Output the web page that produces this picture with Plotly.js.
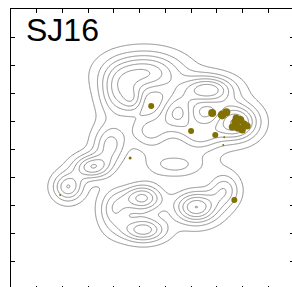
<!DOCTYPE html>
<html><head><meta charset="utf-8">
<script src="https://cdn.plot.ly/plotly-3.0.1.min.js"></script>
<style>html,body{margin:0;padding:0;overflow:hidden;background:#fff}</style>
</head><body><div id="chart"></div>
<script>
// Density components (kernel centres, spreads, weights)
const compX  = [5.21, 4.16, 4.75, 7.67, 6.50, 8.72, 7.35, 5.41, 3.85, 3.15, 2.22, 6.38, 5.10, 5.14, 7.20, 4.00, 8.30];
const compY  = [7.72, 6.94, 6.76, 7.12, 6.33, 5.98, 5.52, 5.66, 5.16, 4.38, 3.67, 4.45, 3.27, 2.14, 2.95, 2.85, 3.56];
const compSX = [1.00, 0.50, 0.30, 0.70, 0.50, 0.60, 0.60, 0.60, 0.45, 0.50, 0.40, 0.90, 0.55, 0.60, 0.60, 0.40, 0.40];
const compSY = [0.50, 0.60, 0.30, 0.35, 0.45, 0.45, 0.40, 0.50, 0.50, 0.30, 0.35, 0.35, 0.35, 0.30, 0.40, 0.50, 0.40];
const compW  = [0.85, 0.60, 0.40, 0.95, 0.80, 1.00, 0.60, 0.60, 0.60, 0.80, 0.70, 0.45, 0.90, 0.80, 1.00, 0.50, 0.50];
// Observed points
const ptX = [5.45, 7.00, 7.94, 7.82, 8.21, 8.37, 8.72, 8.91, 9.07, 8.83, 9.18, 8.60, 8.99, 8.75, 4.63, 1.91, 8.68, 8.25, 8.29];
const ptY = [6.55, 5.66, 5.52, 6.30, 6.23, 6.33, 5.98, 6.05, 5.91, 5.77, 5.84, 5.80, 5.69, 6.12, 4.70, 3.38, 3.20, 5.16, 5.44];
const ptS = [6, 6, 6, 8, 9, 8, 8, 8, 7, 8, 7, 7, 7, 7, 3, 2, 6, 2, 2];
const titleText = "SJ16";

const gx = [], gy = [];
for (let i = 0; i <= 220; i++) gx.push(i * 0.05);
for (let j = 0; j <= 200; j++) gy.push(j * 0.05);
const z = gy.map(y => gx.map(x => {
  let s = 0;
  for (let k = 0; k < compX.length; k++) {
    const dx = (x - compX[k]) / compSX[k], dy = (y - compY[k]) / compSY[k];
    s += compW[k] * Math.exp(-0.5 * (dx * dx + dy * dy));
  }
  return s;
}));

const traces = [
  {type: 'contour', x: gx, y: gy, z: z, showscale: false, hoverinfo: 'skip',
   contours: {coloring: 'lines', start: 0.1, end: 1.6, size: 0.15},
   colorscale: [[0, '#8c8c8c'], [1, '#8c8c8c']], line: {width: 1, smoothing: 1.3}},
  {type: 'scatter', mode: 'markers', x: ptX, y: ptY,
   marker: {color: '#827100', size: ptS, opacity: 1, line: {width: 0}}}
];
const axis = {showgrid: false, zeroline: false, showline: true, linecolor: '#000', linewidth: 1.5,
  mirror: 'ticks', ticks: 'inside', ticklen: 4, tickcolor: '#000', tickwidth: 1, showticklabels: false, dtick: 1};
const layout = {
  width: 296, height: 292, margin: {l: 11, r: 2, t: 9, b: 2},
  paper_bgcolor: '#fff', plot_bgcolor: '#fff', showlegend: false,
  xaxis: Object.assign({range: [0, 11]}, axis),
  yaxis: Object.assign({range: [0, 10]}, axis),
  annotations: [{text: titleText, xref: 'paper', yref: 'paper', x: 0.045, y: 0.995, xanchor: 'left', yanchor: 'top',
    showarrow: false, font: {family: 'Liberation Sans, Arial, sans-serif', size: 32, color: '#000'}}]
};
Plotly.newPlot('chart', traces, layout, {staticPlot: true, displayModeBar: false});
</script></body></html>
